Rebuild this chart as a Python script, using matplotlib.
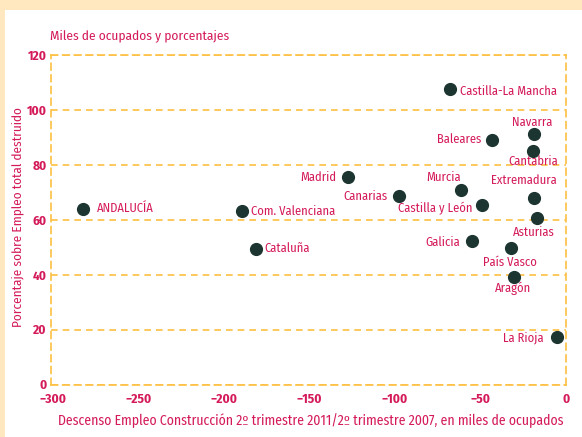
import matplotlib
matplotlib.use("Agg")
import matplotlib.pyplot as plt
from matplotlib.patches import Rectangle

plt.rcParams['font.family'] = ['Fira Sans Condensed', 'Asap Condensed', 'Archivo Narrow', 'DejaVu Sans']

regions = ["ANDALUCÍA", "Com. Valenciana", "Cataluña", "Madrid", "Canarias",
           "Murcia", "Castilla y León", "Castilla-La Mancha", "Baleares",
           "Navarra", "Cantabria", "Extremadura", "Asturias", "Galicia",
           "País Vasco", "Aragón", "La Rioja"]
descenso = [-282.5, -189.5, -181.1, -127.5, -97.3, -61.2, -49.1, -67.7, -43.1,
            -18.5, -19.0, -18.5, -16.8, -55.0, -32.2, -30.4, -5.1]
porcentaje = [64.0, 63.2, 49.2, 75.7, 68.6, 70.8, 65.3, 107.5, 89.1,
              91.2, 85.0, 68.0, 60.7, 52.3, 49.6, 39.1, 17.3]
x_ticks = [-300, -250, -200, -150, -100, -50, 0]
y_ticks = [0, 20, 40, 60, 80, 100, 120]

# label offsets in pixels (dx, dy, ha)
offsets = {
    "ANDALUCÍA": (14, 0, 'left'), "Com. Valenciana": (9, 0, 'left'),
    "Cataluña": (8, 1, 'left'), "Madrid": (-11, -1, 'right'),
    "Canarias": (-12, 0, 'right'), "Murcia": (-17, 13, 'center'),
    "Castilla y León": (-9, -3, 'right'), "Castilla-La Mancha": (10, -2, 'left'),
    "Baleares": (-11, 0, 'right'), "Navarra": (-2, 12, 'center'),
    "Cantabria": (0, -10, 'center'), "Extremadura": (-10, 17, 'center'),
    "Asturias": (-3, -15, 'center'), "Galicia": (-12, -1, 'right'),
    "País Vasco": (-1, -14, 'center'), "Aragón": (-1, -11, 'center'),
    "La Rioja": (-13, -1, 'right'),
}

RED = '#D41A5A'
DOT = '#1C3530'
GRID = '#FDC043'
PEACH = '#FFE8C0'

W, H = 582, 437
fig = plt.figure(figsize=(W / 100, H / 100), dpi=100)
fig.patch.set_facecolor('white')
fig.patches.append(Rectangle((0, 1 - 9.5 / H), 1, 9.5 / H, transform=fig.transFigure,
                             facecolor=PEACH, edgecolor='none', zorder=-10))
fig.patches.append(Rectangle((0, 0), 4.5 / W, 1, transform=fig.transFigure,
                             facecolor=PEACH, edgecolor='none', zorder=-10))

ax = fig.add_axes([50.7 / W, 1 - 384.5 / H, (565.7 - 50.7) / W, (384.5 - 55) / H])
ax.set_xlim(-301.2, 0)
ax.set_ylim(0, 120)
ax.set_xticks(x_ticks)
ax.set_yticks(y_ticks)
ax.set_xticks([-250, -150, -50], minor=True)
ax.tick_params(axis='both', which='both', length=0)
ax.tick_params(axis='x', pad=6)
ax.tick_params(axis='y', pad=3)
for lab in ax.get_xticklabels() + ax.get_yticklabels():
    lab.set_fontweight('bold')
    lab.set_color(RED)
    lab.set_fontsize(9.5)

ax.grid(False)
ax.xaxis.grid(True, which='minor', color=GRID, linestyle=(0, (4, 3)), linewidth=1.2)
ax.yaxis.grid(True, which='major', color=GRID, linestyle=(0, (4, 3)), linewidth=1.2)
for s in ax.spines.values():
    s.set_color(GRID)
    s.set_linestyle((0, (4, 3)))
    s.set_linewidth(1.2)

ax.scatter(descenso, porcentaje, s=72, color=DOT, zorder=5, clip_on=False)
for name, xv, yv in zip(regions, descenso, porcentaje):
    dx, dy, ha = offsets[name]
    ax.annotate(name, (xv, yv), xytext=(dx, dy), textcoords='offset pixels',
                ha=ha, va='center', color=RED, fontsize=9, zorder=6)

fig.text(50 / W, 1 - 36 / H, "Miles de ocupados y porcentajes", ha='left', va='center',
         color=RED, fontsize=9.6)
fig.text(17.5 / W, 1 - 217.5 / H, "Porcentaje sobre Empleo total destruido", rotation=90,
         ha='center', va='center', color=RED, fontsize=9.5)
fig.text(311 / W, 1 - 421 / H,
         "Descenso Empleo Construcción 2º trimestre 2011/2º trimestre 2007, en miles de ocupados",
         ha='center', va='center', color=RED, fontsize=9.9)

fig.savefig('out.png', dpi=100)
